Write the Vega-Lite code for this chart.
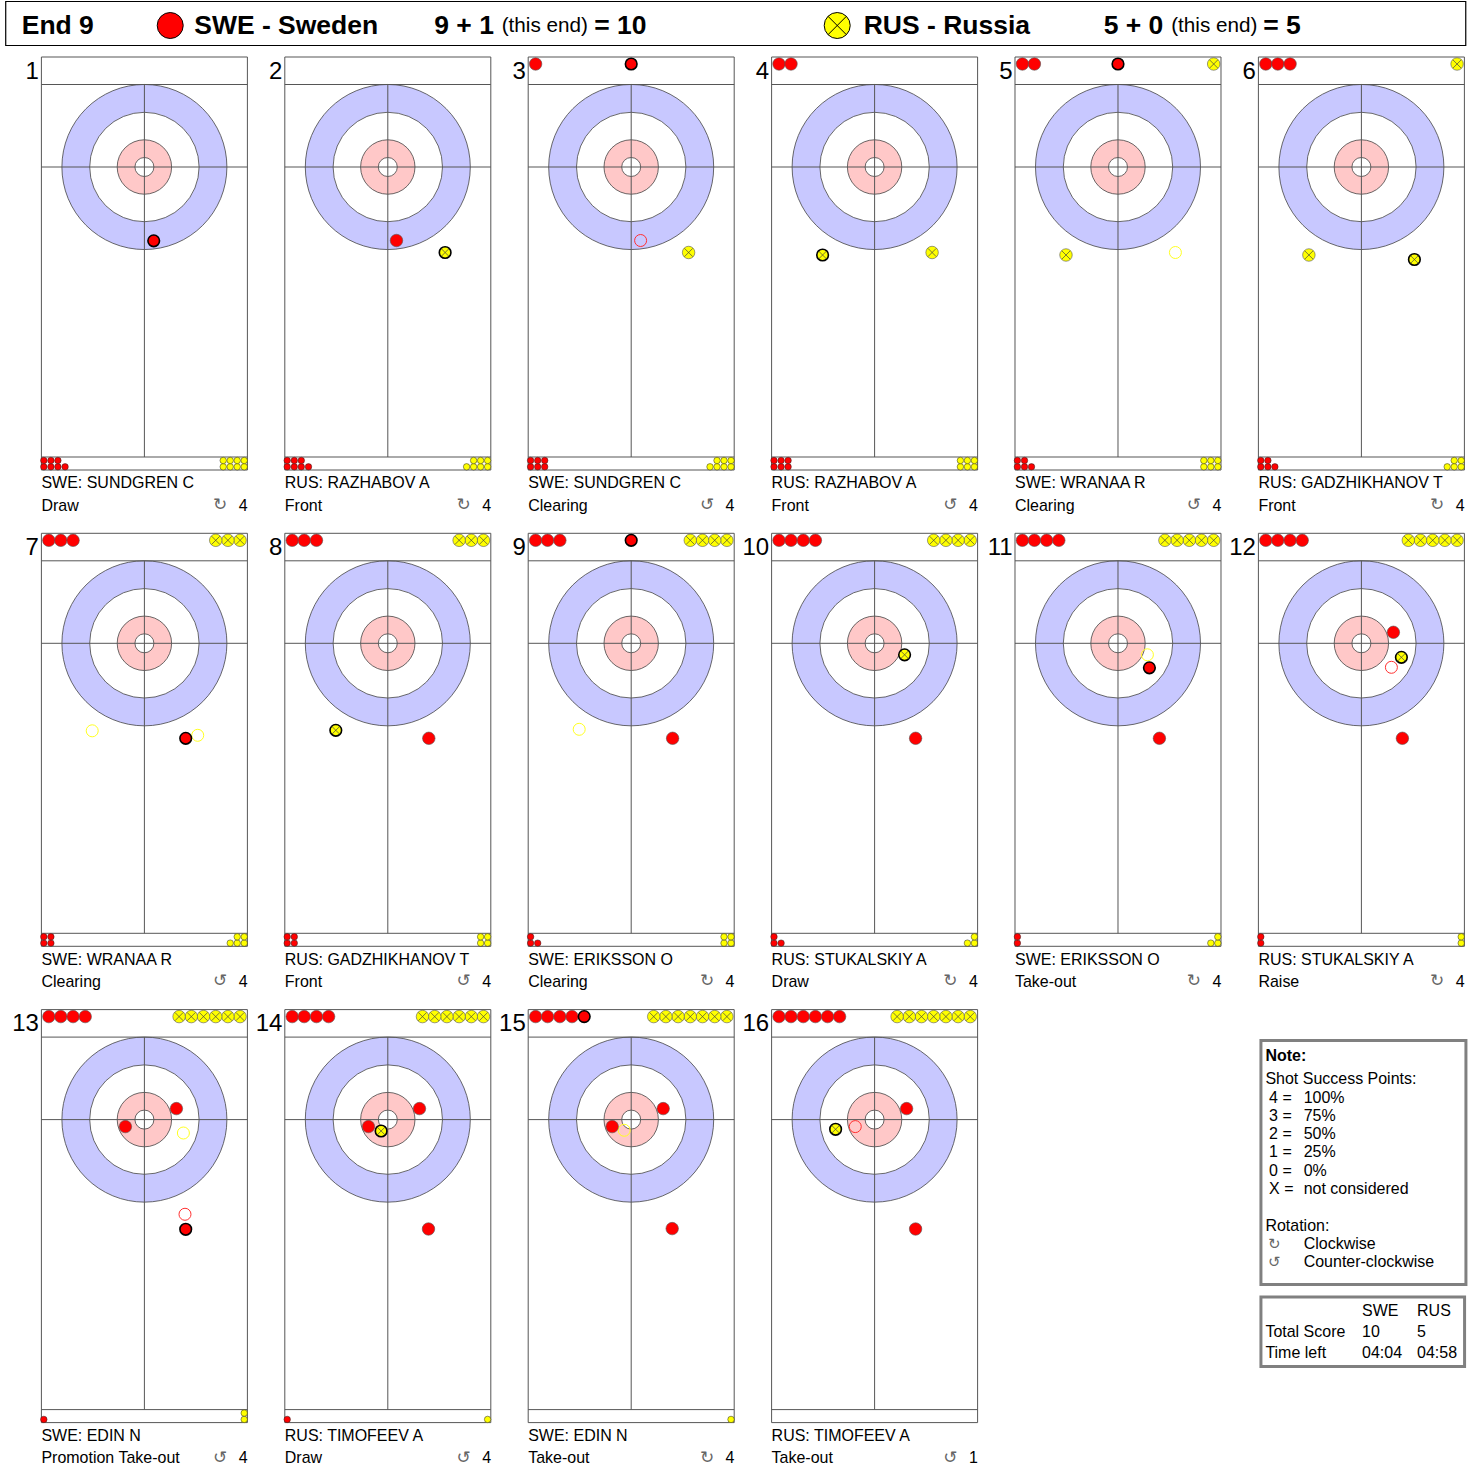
{"$schema":"https://vega.github.io/schema/vega-lite/v6.json","background":"white","padding":{"left":4.4,"top":-1,"right":0,"bottom":0},"autosize":{"type":"pad"},"config":{"font":"Liberation Sans","view":{"stroke":null}},
"columns":6,"spacing":{"row":63.3,"column":37.4},"bounds":"flush",
"facet":{"field":"panel","type":"ordinal","header":{"title":null,"labelExpr":"''","labelPadding":0,"labelFontSize":1,"labelColor":"transparent"}},
"data":{"values":[
{"panel":1,"kind":"label","x":0,"y":0,"player":"SWE: SUNDGREN C","shot":"Draw","rot":"↻","score":"4"},
{"panel":2,"kind":"label","x":0,"y":0,"player":"RUS: RAZHABOV A","shot":"Front","rot":"↻","score":"4"},
{"panel":3,"kind":"label","x":0,"y":0,"player":"SWE: SUNDGREN C","shot":"Clearing","rot":"↺","score":"4"},
{"panel":4,"kind":"label","x":0,"y":0,"player":"RUS: RAZHABOV A","shot":"Front","rot":"↺","score":"4"},
{"panel":5,"kind":"label","x":0,"y":0,"player":"SWE: WRANAA R","shot":"Clearing","rot":"↺","score":"4"},
{"panel":6,"kind":"label","x":0,"y":0,"player":"RUS: GADZHIKHANOV T","shot":"Front","rot":"↻","score":"4"},
{"panel":7,"kind":"label","x":0,"y":0,"player":"SWE: WRANAA R","shot":"Clearing","rot":"↺","score":"4"},
{"panel":8,"kind":"label","x":0,"y":0,"player":"RUS: GADZHIKHANOV T","shot":"Front","rot":"↺","score":"4"},
{"panel":9,"kind":"label","x":0,"y":0,"player":"SWE: ERIKSSON O","shot":"Clearing","rot":"↻","score":"4"},
{"panel":10,"kind":"label","x":0,"y":0,"player":"RUS: STUKALSKIY A","shot":"Draw","rot":"↻","score":"4"},
{"panel":11,"kind":"label","x":0,"y":0,"player":"SWE: ERIKSSON O","shot":"Take-out","rot":"↻","score":"4"},
{"panel":12,"kind":"label","x":0,"y":0,"player":"RUS: STUKALSKIY A","shot":"Raise","rot":"↻","score":"4"},
{"panel":13,"kind":"label","x":0,"y":0,"player":"SWE: EDIN N","shot":"Promotion Take-out","rot":"↺","score":"4"},
{"panel":14,"kind":"label","x":0,"y":0,"player":"RUS: TIMOFEEV A","shot":"Draw","rot":"↺","score":"4"},
{"panel":15,"kind":"label","x":0,"y":0,"player":"SWE: EDIN N","shot":"Take-out","rot":"↻","score":"4"},
{"panel":16,"kind":"label","x":0,"y":0,"player":"RUS: TIMOFEEV A","shot":"Take-out","rot":"↺","score":"1"},
{"panel":17,"kind":"blank","x":0,"y":0},
{"panel":1,"kind":"headbox","x":-305.1,"x2":2907,"y":-364.1,"y2":-267.3},
{"panel":1,"kind":"headStone","team":"SWE","x":56.8,"y":-311.3},
{"panel":1,"kind":"headStone","team":"RUS","x":1524.2,"y":-311.3},
{"panel":1,"kind":"headBold","x":-269.9,"y":-311.3,"label":"End 9"},
{"panel":1,"kind":"headBold","x":109.6,"y":-311.3,"label":"SWE - Sweden"},
{"panel":1,"kind":"headBold","x":637.6,"y":-311.3,"label":"9 + 1"},
{"panel":1,"kind":"headThin","x":786,"y":-311.3,"label":"(this end)"},
{"panel":1,"kind":"headBold","x":989.6,"y":-311.3,"label":"= 10"},
{"panel":1,"kind":"headBold","x":1582.5,"y":-311.3,"label":"RUS - Russia"},
{"panel":1,"kind":"headBold","x":2110.5,"y":-311.3,"label":"5 + 0"},
{"panel":1,"kind":"headThin","x":2259,"y":-311.3,"label":"(this end)"},
{"panel":1,"kind":"headBold","x":2461.4,"y":-311.3,"label":"= 5"},
{"panel":18,"kind":"box","x":-221,"x2":230,"y":-173.8,"y2":363},
{"panel":18,"kind":"box","x":-221,"x2":227,"y":390.5,"y2":543.4},
{"panel":18,"kind":"noteBold","x":-211.2,"y":-140,"label":"Note:"},
{"panel":18,"kind":"note","x":-211.2,"y":-89,"label":"Shot Success Points:"},
{"panel":18,"kind":"note","x":-203,"y":-48,"label":"4 ="},
{"panel":18,"kind":"note","x":-127,"y":-48,"label":"100%"},
{"panel":18,"kind":"note","x":-203,"y":-7.7,"label":"3 ="},
{"panel":18,"kind":"note","x":-127,"y":-7.7,"label":"75%"},
{"panel":18,"kind":"note","x":-203,"y":31.9,"label":"2 ="},
{"panel":18,"kind":"note","x":-127,"y":31.9,"label":"50%"},
{"panel":18,"kind":"note","x":-203,"y":72.2,"label":"1 ="},
{"panel":18,"kind":"note","x":-127,"y":72.2,"label":"25%"},
{"panel":18,"kind":"note","x":-203,"y":112.6,"label":"0 ="},
{"panel":18,"kind":"note","x":-127,"y":112.6,"label":"0%"},
{"panel":18,"kind":"note","x":-203,"y":152.9,"label":"X ="},
{"panel":18,"kind":"note","x":-127,"y":152.9,"label":"not considered"},
{"panel":18,"kind":"note","x":-211.2,"y":234.3,"label":"Rotation:"},
{"panel":18,"kind":"noteGlyph","x":-191.4,"y":273.9,"label":"↻"},
{"panel":18,"kind":"note","x":-127,"y":273.9,"label":"Clockwise"},
{"panel":18,"kind":"noteGlyph","x":-191.4,"y":314.2,"label":"↺"},
{"panel":18,"kind":"note","x":-127,"y":314.2,"label":"Counter-clockwise"},
{"panel":18,"kind":"note","x":1.5,"y":421.3,"label":"SWE"},
{"panel":18,"kind":"note","x":122.5,"y":421.3,"label":"RUS"},
{"panel":18,"kind":"note","x":-211.2,"y":466.8,"label":"Total Score"},
{"panel":18,"kind":"note","x":1.5,"y":466.8,"label":"10"},
{"panel":18,"kind":"note","x":122.5,"y":466.8,"label":"5"},
{"panel":18,"kind":"note","x":-211.2,"y":513,"label":"Time left"},
{"panel":18,"kind":"note","x":1.5,"y":513,"label":"04:04"},
{"panel":18,"kind":"note","x":122.5,"y":513,"label":"04:58"},
{"panel":1,"team":"SWE","state":"thrown","x":20.5,"y":162.4},
{"panel":2,"team":"SWE","state":"rest","x":19.1,"y":161.7},
{"panel":2,"team":"RUS","state":"thrown","x":126.1,"y":188.1},
{"panel":3,"team":"SWE","state":"removed","x":20.7,"y":161.7},
{"panel":3,"team":"RUS","state":"rest","x":126.3,"y":188.1},
{"panel":3,"team":"SWE","state":"thrown","x":0,"y":-226.6},
{"panel":4,"team":"RUS","state":"thrown","x":-114.4,"y":193.6},
{"panel":4,"team":"RUS","state":"rest","x":126.5,"y":188.1},
{"panel":5,"team":"RUS","state":"rest","x":-114.4,"y":193.6},
{"panel":5,"team":"RUS","state":"removed","x":126.3,"y":188.1},
{"panel":5,"team":"SWE","state":"thrown","x":0,"y":-226.6},
{"panel":6,"team":"RUS","state":"rest","x":-115.5,"y":193.6},
{"panel":6,"team":"RUS","state":"thrown","x":116.6,"y":203.5},
{"panel":7,"team":"RUS","state":"removed","x":-114.8,"y":192.5},
{"panel":7,"team":"RUS","state":"removed","x":117.3,"y":202.4},
{"panel":7,"team":"SWE","state":"thrown","x":90.9,"y":209},
{"panel":8,"team":"RUS","state":"thrown","x":-114.4,"y":191.4},
{"panel":8,"team":"SWE","state":"rest","x":90.2,"y":209},
{"panel":9,"team":"RUS","state":"removed","x":-114.4,"y":189.2},
{"panel":9,"team":"SWE","state":"rest","x":91.1,"y":209},
{"panel":9,"team":"SWE","state":"thrown","x":0,"y":-226.6},
{"panel":10,"team":"RUS","state":"thrown","x":66,"y":25.3},
{"panel":10,"team":"SWE","state":"rest","x":90.2,"y":209},
{"panel":11,"team":"RUS","state":"removed","x":64.7,"y":25.3},
{"panel":11,"team":"SWE","state":"thrown","x":69.1,"y":53.9},
{"panel":11,"team":"SWE","state":"rest","x":91.1,"y":209},
{"panel":12,"team":"SWE","state":"rest","x":70.4,"y":-24.2},
{"panel":12,"team":"RUS","state":"thrown","x":88,"y":30.8},
{"panel":12,"team":"SWE","state":"removed","x":66,"y":52.8},
{"panel":12,"team":"SWE","state":"rest","x":90.2,"y":209},
{"panel":13,"team":"SWE","state":"rest","x":70.4,"y":-24.2},
{"panel":13,"team":"SWE","state":"rest","x":-41.8,"y":15.4},
{"panel":13,"team":"RUS","state":"removed","x":85.8,"y":29.5},
{"panel":13,"team":"SWE","state":"removed","x":89.3,"y":208.3},
{"panel":13,"team":"SWE","state":"thrown","x":90.9,"y":241.3},
{"panel":14,"team":"SWE","state":"rest","x":69.7,"y":-24.2},
{"panel":14,"team":"SWE","state":"rest","x":-42.5,"y":15.4},
{"panel":14,"team":"RUS","state":"thrown","x":-14.7,"y":25.1},
{"panel":14,"team":"SWE","state":"rest","x":89.5,"y":240.7},
{"panel":15,"team":"SWE","state":"rest","x":70.4,"y":-24.2},
{"panel":15,"team":"SWE","state":"rest","x":-41.8,"y":15.4},
{"panel":15,"team":"RUS","state":"removed","x":-15.4,"y":23.5},
{"panel":15,"team":"SWE","state":"rest","x":90.2,"y":239.8},
{"panel":15,"team":"SWE","state":"thrown","x":-103.4,"y":-226.6},
{"panel":16,"team":"RUS","state":"thrown","x":-85.8,"y":21.3},
{"panel":16,"team":"SWE","state":"removed","x":-42.5,"y":15.4},
{"panel":16,"team":"SWE","state":"rest","x":70.4,"y":-24.2},
{"panel":16,"team":"SWE","state":"rest","x":90.2,"y":240.7},
{"panel":3,"team":"SWE","state":"rest","x":-210.3,"y":-226.6},
{"panel":4,"team":"SWE","state":"rest","x":-210.3,"y":-226.6},{"panel":4,"team":"SWE","state":"rest","x":-183.9,"y":-226.6},
{"panel":5,"team":"SWE","state":"rest","x":-210.3,"y":-226.6},{"panel":5,"team":"SWE","state":"rest","x":-183.9,"y":-226.6},{"panel":5,"team":"RUS","state":"rest","x":210.5,"y":-226.6},
{"panel":6,"team":"SWE","state":"rest","x":-210.3,"y":-226.6},{"panel":6,"team":"SWE","state":"rest","x":-183.9,"y":-226.6},{"panel":6,"team":"SWE","state":"rest","x":-156.9,"y":-226.6},{"panel":6,"team":"RUS","state":"rest","x":210.5,"y":-226.6},
{"panel":7,"team":"SWE","state":"rest","x":-210.3,"y":-226.6},{"panel":7,"team":"SWE","state":"rest","x":-183.9,"y":-226.6},{"panel":7,"team":"SWE","state":"rest","x":-156.9,"y":-226.6},{"panel":7,"team":"RUS","state":"rest","x":210.5,"y":-226.6},{"panel":7,"team":"RUS","state":"rest","x":183.7,"y":-226.6},{"panel":7,"team":"RUS","state":"rest","x":156.9,"y":-226.6},
{"panel":8,"team":"SWE","state":"rest","x":-210.3,"y":-226.6},{"panel":8,"team":"SWE","state":"rest","x":-183.9,"y":-226.6},{"panel":8,"team":"SWE","state":"rest","x":-156.9,"y":-226.6},{"panel":8,"team":"RUS","state":"rest","x":210.5,"y":-226.6},{"panel":8,"team":"RUS","state":"rest","x":183.7,"y":-226.6},{"panel":8,"team":"RUS","state":"rest","x":156.9,"y":-226.6},
{"panel":9,"team":"SWE","state":"rest","x":-210.3,"y":-226.6},{"panel":9,"team":"SWE","state":"rest","x":-183.9,"y":-226.6},{"panel":9,"team":"SWE","state":"rest","x":-156.9,"y":-226.6},{"panel":9,"team":"RUS","state":"rest","x":210.5,"y":-226.6},{"panel":9,"team":"RUS","state":"rest","x":183.7,"y":-226.6},{"panel":9,"team":"RUS","state":"rest","x":156.9,"y":-226.6},{"panel":9,"team":"RUS","state":"rest","x":130,"y":-226.6},
{"panel":10,"team":"SWE","state":"rest","x":-210.3,"y":-226.6},{"panel":10,"team":"SWE","state":"rest","x":-183.9,"y":-226.6},{"panel":10,"team":"SWE","state":"rest","x":-156.9,"y":-226.6},{"panel":10,"team":"SWE","state":"rest","x":-130.2,"y":-226.6},{"panel":10,"team":"RUS","state":"rest","x":210.5,"y":-226.6},{"panel":10,"team":"RUS","state":"rest","x":183.7,"y":-226.6},{"panel":10,"team":"RUS","state":"rest","x":156.9,"y":-226.6},{"panel":10,"team":"RUS","state":"rest","x":130,"y":-226.6},
{"panel":11,"team":"SWE","state":"rest","x":-210.3,"y":-226.6},{"panel":11,"team":"SWE","state":"rest","x":-183.9,"y":-226.6},{"panel":11,"team":"SWE","state":"rest","x":-156.9,"y":-226.6},{"panel":11,"team":"SWE","state":"rest","x":-130.2,"y":-226.6},{"panel":11,"team":"RUS","state":"rest","x":210.5,"y":-226.6},{"panel":11,"team":"RUS","state":"rest","x":183.7,"y":-226.6},{"panel":11,"team":"RUS","state":"rest","x":156.9,"y":-226.6},{"panel":11,"team":"RUS","state":"rest","x":130,"y":-226.6},{"panel":11,"team":"RUS","state":"rest","x":103.2,"y":-226.6},
{"panel":12,"team":"SWE","state":"rest","x":-210.3,"y":-226.6},{"panel":12,"team":"SWE","state":"rest","x":-183.9,"y":-226.6},{"panel":12,"team":"SWE","state":"rest","x":-156.9,"y":-226.6},{"panel":12,"team":"SWE","state":"rest","x":-130.2,"y":-226.6},{"panel":12,"team":"RUS","state":"rest","x":210.5,"y":-226.6},{"panel":12,"team":"RUS","state":"rest","x":183.7,"y":-226.6},{"panel":12,"team":"RUS","state":"rest","x":156.9,"y":-226.6},{"panel":12,"team":"RUS","state":"rest","x":130,"y":-226.6},{"panel":12,"team":"RUS","state":"rest","x":103.2,"y":-226.6},
{"panel":13,"team":"SWE","state":"rest","x":-210.3,"y":-226.6},{"panel":13,"team":"SWE","state":"rest","x":-183.9,"y":-226.6},{"panel":13,"team":"SWE","state":"rest","x":-156.9,"y":-226.6},{"panel":13,"team":"SWE","state":"rest","x":-130.2,"y":-226.6},{"panel":13,"team":"RUS","state":"rest","x":210.5,"y":-226.6},{"panel":13,"team":"RUS","state":"rest","x":183.7,"y":-226.6},{"panel":13,"team":"RUS","state":"rest","x":156.9,"y":-226.6},{"panel":13,"team":"RUS","state":"rest","x":130,"y":-226.6},{"panel":13,"team":"RUS","state":"rest","x":103.2,"y":-226.6},{"panel":13,"team":"RUS","state":"rest","x":76.3,"y":-226.6},
{"panel":14,"team":"SWE","state":"rest","x":-210.3,"y":-226.6},{"panel":14,"team":"SWE","state":"rest","x":-183.9,"y":-226.6},{"panel":14,"team":"SWE","state":"rest","x":-156.9,"y":-226.6},{"panel":14,"team":"SWE","state":"rest","x":-130.2,"y":-226.6},{"panel":14,"team":"RUS","state":"rest","x":210.5,"y":-226.6},{"panel":14,"team":"RUS","state":"rest","x":183.7,"y":-226.6},{"panel":14,"team":"RUS","state":"rest","x":156.9,"y":-226.6},{"panel":14,"team":"RUS","state":"rest","x":130,"y":-226.6},{"panel":14,"team":"RUS","state":"rest","x":103.2,"y":-226.6},{"panel":14,"team":"RUS","state":"rest","x":76.3,"y":-226.6},
{"panel":15,"team":"SWE","state":"rest","x":-210.3,"y":-226.6},{"panel":15,"team":"SWE","state":"rest","x":-183.9,"y":-226.6},{"panel":15,"team":"SWE","state":"rest","x":-156.9,"y":-226.6},{"panel":15,"team":"SWE","state":"rest","x":-130.2,"y":-226.6},{"panel":15,"team":"RUS","state":"rest","x":210.5,"y":-226.6},{"panel":15,"team":"RUS","state":"rest","x":183.7,"y":-226.6},{"panel":15,"team":"RUS","state":"rest","x":156.9,"y":-226.6},{"panel":15,"team":"RUS","state":"rest","x":130,"y":-226.6},{"panel":15,"team":"RUS","state":"rest","x":103.2,"y":-226.6},{"panel":15,"team":"RUS","state":"rest","x":76.3,"y":-226.6},{"panel":15,"team":"RUS","state":"rest","x":49.5,"y":-226.6},
{"panel":16,"team":"SWE","state":"rest","x":-210.3,"y":-226.6},{"panel":16,"team":"SWE","state":"rest","x":-183.9,"y":-226.6},{"panel":16,"team":"SWE","state":"rest","x":-156.9,"y":-226.6},{"panel":16,"team":"SWE","state":"rest","x":-130.2,"y":-226.6},{"panel":16,"team":"SWE","state":"rest","x":-103.4,"y":-226.6},{"panel":16,"team":"SWE","state":"rest","x":-77,"y":-226.6},{"panel":16,"team":"RUS","state":"rest","x":210.5,"y":-226.6},{"panel":16,"team":"RUS","state":"rest","x":183.7,"y":-226.6},{"panel":16,"team":"RUS","state":"rest","x":156.9,"y":-226.6},{"panel":16,"team":"RUS","state":"rest","x":130,"y":-226.6},{"panel":16,"team":"RUS","state":"rest","x":103.2,"y":-226.6},{"panel":16,"team":"RUS","state":"rest","x":76.3,"y":-226.6},{"panel":16,"team":"RUS","state":"rest","x":49.5,"y":-226.6},
{"panel":1,"team":"SWE","state":"tray","x":-221.3,"y":659.6},{"panel":1,"team":"SWE","state":"tray","x":-205.7,"y":659.6},{"panel":1,"team":"SWE","state":"tray","x":-190.3,"y":659.6},{"panel":1,"team":"SWE","state":"tray","x":-174.5,"y":659.6},{"panel":1,"team":"SWE","state":"tray","x":-221.3,"y":645.7},{"panel":1,"team":"SWE","state":"tray","x":-205.7,"y":645.7},{"panel":1,"team":"SWE","state":"tray","x":-190.3,"y":645.7},
{"panel":2,"team":"SWE","state":"tray","x":-221.3,"y":659.6},{"panel":2,"team":"SWE","state":"tray","x":-205.7,"y":659.6},{"panel":2,"team":"SWE","state":"tray","x":-190.3,"y":659.6},{"panel":2,"team":"SWE","state":"tray","x":-174.5,"y":659.6},{"panel":2,"team":"SWE","state":"tray","x":-221.3,"y":645.7},{"panel":2,"team":"SWE","state":"tray","x":-205.7,"y":645.7},{"panel":2,"team":"SWE","state":"tray","x":-190.3,"y":645.7},
{"panel":3,"team":"SWE","state":"tray","x":-221.3,"y":659.6},{"panel":3,"team":"SWE","state":"tray","x":-205.7,"y":659.6},{"panel":3,"team":"SWE","state":"tray","x":-190.3,"y":659.6},{"panel":3,"team":"SWE","state":"tray","x":-221.3,"y":645.7},{"panel":3,"team":"SWE","state":"tray","x":-205.7,"y":645.7},{"panel":3,"team":"SWE","state":"tray","x":-190.3,"y":645.7},
{"panel":4,"team":"SWE","state":"tray","x":-221.3,"y":659.6},{"panel":4,"team":"SWE","state":"tray","x":-205.7,"y":659.6},{"panel":4,"team":"SWE","state":"tray","x":-190.3,"y":659.6},{"panel":4,"team":"SWE","state":"tray","x":-221.3,"y":645.7},{"panel":4,"team":"SWE","state":"tray","x":-205.7,"y":645.7},{"panel":4,"team":"SWE","state":"tray","x":-190.3,"y":645.7},
{"panel":5,"team":"SWE","state":"tray","x":-221.3,"y":659.6},{"panel":5,"team":"SWE","state":"tray","x":-205.7,"y":659.6},{"panel":5,"team":"SWE","state":"tray","x":-190.3,"y":659.6},{"panel":5,"team":"SWE","state":"tray","x":-221.3,"y":645.7},{"panel":5,"team":"SWE","state":"tray","x":-205.7,"y":645.7},
{"panel":6,"team":"SWE","state":"tray","x":-221.3,"y":659.6},{"panel":6,"team":"SWE","state":"tray","x":-205.7,"y":659.6},{"panel":6,"team":"SWE","state":"tray","x":-190.3,"y":659.6},{"panel":6,"team":"SWE","state":"tray","x":-221.3,"y":645.7},{"panel":6,"team":"SWE","state":"tray","x":-205.7,"y":645.7},
{"panel":7,"team":"SWE","state":"tray","x":-221.3,"y":659.6},{"panel":7,"team":"SWE","state":"tray","x":-205.7,"y":659.6},{"panel":7,"team":"SWE","state":"tray","x":-221.3,"y":645.7},{"panel":7,"team":"SWE","state":"tray","x":-205.7,"y":645.7},
{"panel":8,"team":"SWE","state":"tray","x":-221.3,"y":659.6},{"panel":8,"team":"SWE","state":"tray","x":-205.7,"y":659.6},{"panel":8,"team":"SWE","state":"tray","x":-221.3,"y":645.7},{"panel":8,"team":"SWE","state":"tray","x":-205.7,"y":645.7},
{"panel":9,"team":"SWE","state":"tray","x":-221.3,"y":659.6},{"panel":9,"team":"SWE","state":"tray","x":-205.7,"y":659.6},{"panel":9,"team":"SWE","state":"tray","x":-221.3,"y":645.7},
{"panel":10,"team":"SWE","state":"tray","x":-221.3,"y":659.6},{"panel":10,"team":"SWE","state":"tray","x":-205.7,"y":659.6},{"panel":10,"team":"SWE","state":"tray","x":-221.3,"y":645.7},
{"panel":11,"team":"SWE","state":"tray","x":-221.3,"y":659.6},{"panel":11,"team":"SWE","state":"tray","x":-221.3,"y":645.7},
{"panel":12,"team":"SWE","state":"tray","x":-221.3,"y":659.6},{"panel":12,"team":"SWE","state":"tray","x":-221.3,"y":645.7},
{"panel":13,"team":"SWE","state":"tray","x":-221.3,"y":659.6},
{"panel":14,"team":"SWE","state":"tray","x":-221.3,"y":659.6},
{"panel":1,"team":"RUS","state":"tray","x":219.6,"y":659.6},{"panel":1,"team":"RUS","state":"tray","x":204.2,"y":659.6},{"panel":1,"team":"RUS","state":"tray","x":188.8,"y":659.6},{"panel":1,"team":"RUS","state":"tray","x":173.4,"y":659.6},{"panel":1,"team":"RUS","state":"tray","x":219.6,"y":645.7},{"panel":1,"team":"RUS","state":"tray","x":204.2,"y":645.7},{"panel":1,"team":"RUS","state":"tray","x":188.8,"y":645.7},{"panel":1,"team":"RUS","state":"tray","x":173.4,"y":645.7},
{"panel":2,"team":"RUS","state":"tray","x":219.6,"y":659.6},{"panel":2,"team":"RUS","state":"tray","x":204.2,"y":659.6},{"panel":2,"team":"RUS","state":"tray","x":188.8,"y":659.6},{"panel":2,"team":"RUS","state":"tray","x":173.4,"y":659.6},{"panel":2,"team":"RUS","state":"tray","x":219.6,"y":645.7},{"panel":2,"team":"RUS","state":"tray","x":204.2,"y":645.7},{"panel":2,"team":"RUS","state":"tray","x":188.8,"y":645.7},
{"panel":3,"team":"RUS","state":"tray","x":219.6,"y":659.6},{"panel":3,"team":"RUS","state":"tray","x":204.2,"y":659.6},{"panel":3,"team":"RUS","state":"tray","x":188.8,"y":659.6},{"panel":3,"team":"RUS","state":"tray","x":173.4,"y":659.6},{"panel":3,"team":"RUS","state":"tray","x":219.6,"y":645.7},{"panel":3,"team":"RUS","state":"tray","x":204.2,"y":645.7},{"panel":3,"team":"RUS","state":"tray","x":188.8,"y":645.7},
{"panel":4,"team":"RUS","state":"tray","x":219.6,"y":659.6},{"panel":4,"team":"RUS","state":"tray","x":204.2,"y":659.6},{"panel":4,"team":"RUS","state":"tray","x":188.8,"y":659.6},{"panel":4,"team":"RUS","state":"tray","x":219.6,"y":645.7},{"panel":4,"team":"RUS","state":"tray","x":204.2,"y":645.7},{"panel":4,"team":"RUS","state":"tray","x":188.8,"y":645.7},
{"panel":5,"team":"RUS","state":"tray","x":219.6,"y":659.6},{"panel":5,"team":"RUS","state":"tray","x":204.2,"y":659.6},{"panel":5,"team":"RUS","state":"tray","x":188.8,"y":659.6},{"panel":5,"team":"RUS","state":"tray","x":219.6,"y":645.7},{"panel":5,"team":"RUS","state":"tray","x":204.2,"y":645.7},{"panel":5,"team":"RUS","state":"tray","x":188.8,"y":645.7},
{"panel":6,"team":"RUS","state":"tray","x":219.6,"y":659.6},{"panel":6,"team":"RUS","state":"tray","x":204.2,"y":659.6},{"panel":6,"team":"RUS","state":"tray","x":188.8,"y":659.6},{"panel":6,"team":"RUS","state":"tray","x":219.6,"y":645.7},{"panel":6,"team":"RUS","state":"tray","x":204.2,"y":645.7},
{"panel":7,"team":"RUS","state":"tray","x":219.6,"y":659.6},{"panel":7,"team":"RUS","state":"tray","x":204.2,"y":659.6},{"panel":7,"team":"RUS","state":"tray","x":188.8,"y":659.6},{"panel":7,"team":"RUS","state":"tray","x":219.6,"y":645.7},{"panel":7,"team":"RUS","state":"tray","x":204.2,"y":645.7},
{"panel":8,"team":"RUS","state":"tray","x":219.6,"y":659.6},{"panel":8,"team":"RUS","state":"tray","x":204.2,"y":659.6},{"panel":8,"team":"RUS","state":"tray","x":219.6,"y":645.7},{"panel":8,"team":"RUS","state":"tray","x":204.2,"y":645.7},
{"panel":9,"team":"RUS","state":"tray","x":219.6,"y":659.6},{"panel":9,"team":"RUS","state":"tray","x":204.2,"y":659.6},{"panel":9,"team":"RUS","state":"tray","x":219.6,"y":645.7},{"panel":9,"team":"RUS","state":"tray","x":204.2,"y":645.7},
{"panel":10,"team":"RUS","state":"tray","x":219.6,"y":659.6},{"panel":10,"team":"RUS","state":"tray","x":204.2,"y":659.6},{"panel":10,"team":"RUS","state":"tray","x":219.6,"y":645.7},
{"panel":11,"team":"RUS","state":"tray","x":219.6,"y":659.6},{"panel":11,"team":"RUS","state":"tray","x":204.2,"y":659.6},{"panel":11,"team":"RUS","state":"tray","x":219.6,"y":645.7},
{"panel":12,"team":"RUS","state":"tray","x":219.6,"y":659.6},{"panel":12,"team":"RUS","state":"tray","x":219.6,"y":645.7},
{"panel":13,"team":"RUS","state":"tray","x":219.6,"y":659.6},{"panel":13,"team":"RUS","state":"tray","x":219.6,"y":645.7},
{"panel":14,"team":"RUS","state":"tray","x":219.6,"y":659.6},
{"panel":15,"team":"RUS","state":"tray","x":219.6,"y":659.6}
]},
"spec":{"width":206,"height":413,
"encoding":{"x":{"field":"x","type":"quantitative","axis":null,"scale":{"domain":[-226.6,226.6],"nice":false,"zero":false}},"y":{"field":"y","type":"quantitative","axis":null,"scale":{"domain":[-242,666.6],"reverse":true,"nice":false,"zero":false}}},
"layer":[
{"transform":[{"filter":"datum.kind==='label'"}],"mark":{"type":"point","shape":"circle","filled":true,"fill":"#c8c8ff","stroke":"#444444","strokeWidth":0.8,"opacity":1,"size":27225},"encoding":{}},
{"transform":[{"filter":"datum.kind==='label'"}],"mark":{"type":"point","shape":"circle","filled":true,"fill":"#ffffff","stroke":"#444444","strokeWidth":0.8,"opacity":1,"size":11968},"encoding":{}},
{"transform":[{"filter":"datum.kind==='label'"}],"mark":{"type":"point","shape":"circle","filled":true,"fill":"#ffc8c8","stroke":"#444444","strokeWidth":0.8,"opacity":1,"size":2959},"encoding":{}},
{"transform":[{"filter":"datum.kind==='label'"}],"mark":{"type":"point","shape":"circle","filled":true,"fill":"#ffffff","stroke":"#444444","strokeWidth":0.8,"opacity":1,"size":361},"encoding":{}},
{"transform":[{"filter":"datum.kind==='label'"}],"mark":{"type":"rule","stroke":"#555555","strokeWidth":1},"encoding":{"x":{"datum":0},"y":{"datum":-181.5},"y2":{"datum":638}}},
{"transform":[{"filter":"datum.kind==='label'"}],"mark":{"type":"rule","stroke":"#555555","strokeWidth":1},"encoding":{"x":{"datum":-226.6},"x2":{"datum":226.6},"y":{"datum":0}}},
{"transform":[{"filter":"datum.kind==='label'"}],"mark":{"type":"rule","stroke":"#555555","strokeWidth":1},"encoding":{"x":{"datum":-226.6},"x2":{"datum":226.6},"y":{"datum":-181.5}}},
{"transform":[{"filter":"datum.kind==='label'"}],"mark":{"type":"rule","stroke":"#555555","strokeWidth":1},"encoding":{"x":{"datum":-226.6},"x2":{"datum":226.6},"y":{"datum":638}}},
{"transform":[{"filter":"datum.kind==='label'"}],"mark":{"type":"rect","fillOpacity":0,"stroke":"#555555","strokeWidth":1},"encoding":{"x":{"datum":-226.6},"x2":{"datum":226.6},"y":{"datum":-242},"y2":{"datum":666.6}}},
{"transform":[{"filter":"datum.state==='removed'"}],"mark":{"type":"point","shape":"circle","filled":false,"strokeWidth":1,"opacity":1,"size":144},"encoding":{"color":{"field":"team","type":"nominal","legend":null,"scale":{"domain":["SWE","RUS"],"range":["#ff3030","#ffff20"]}}}},
{"transform":[{"filter":"datum.state==='rest'"}],"mark":{"type":"point","shape":"circle","filled":true,"stroke":"#555555","strokeWidth":0.6,"opacity":1,"size":156},"encoding":{"fill":{"field":"team","type":"nominal","legend":null,"scale":{"domain":["SWE","RUS"],"range":["#ff0000","#ffff00"]}}}},
{"transform":[{"filter":"datum.state==='thrown'"}],"mark":{"type":"point","shape":"circle","filled":true,"stroke":"#000000","strokeWidth":1.6,"opacity":1,"size":135},"encoding":{"fill":{"field":"team","type":"nominal","legend":null,"scale":{"domain":["SWE","RUS"],"range":["#ff0000","#ffff00"]}}}},
{"transform":[{"filter":"datum.team==='RUS'&&(datum.state==='rest'||datum.state==='thrown')"}],"mark":{"type":"point","shape":"M-1,-1L1,1M-1,1L1,-1","filled":false,"stroke":"#444444","strokeWidth":0.7,"opacity":1,"size":68},"encoding":{}},
{"transform":[{"filter":"datum.state==='tray'"}],"mark":{"type":"point","shape":"circle","filled":true,"stroke":"#222222","strokeWidth":0.5,"opacity":1,"size":42},"encoding":{"fill":{"field":"team","type":"nominal","legend":null,"scale":{"domain":["SWE","RUS"],"range":["#ff0000","#ffff00"]}}}},
{"transform":[{"filter":"datum.kind==='label'"}],"mark":{"type":"text","align":"right","baseline":"middle","fontSize":24,"color":"#000000"},"encoding":{"x":{"datum":-232},"y":{"datum":-210},"text":{"field":"panel","type":"nominal"}}},
{"transform":[{"filter":"datum.kind==='label'"}],"mark":{"type":"text","align":"left","baseline":"middle","fontSize":16,"color":"#000000"},"encoding":{"x":{"datum":-226.6},"y":{"datum":696},"text":{"field":"player","type":"nominal"}}},
{"transform":[{"filter":"datum.kind==='label'"}],"mark":{"type":"text","align":"left","baseline":"middle","fontSize":16,"color":"#000000"},"encoding":{"x":{"datum":-226.6},"y":{"datum":744.7},"text":{"field":"shot","type":"nominal"}}},
{"transform":[{"filter":"datum.kind==='label'"}],"mark":{"type":"text","align":"center","baseline":"middle","fontSize":17,"font":"DejaVu Sans","color":"#666666"},"encoding":{"x":{"datum":166.8},"y":{"datum":744},"text":{"field":"rot","type":"nominal"}}},
{"transform":[{"filter":"datum.kind==='label'"}],"mark":{"type":"text","align":"right","baseline":"middle","fontSize":16,"color":"#000000"},"encoding":{"x":{"datum":227.3},"y":{"datum":744.7},"text":{"field":"score","type":"nominal"}}},
{"transform":[{"filter":"datum.kind==='headbox'"}],"mark":{"type":"rect","fillOpacity":0,"stroke":"#000000","strokeWidth":1.2},"encoding":{"x2":{"field":"x2"},"y2":{"field":"y2"}}},
{"transform":[{"filter":"datum.kind==='box'"}],"mark":{"type":"rect","fillOpacity":0,"stroke":"#808080","strokeWidth":3},"encoding":{"x2":{"field":"x2"},"y2":{"field":"y2"}}},
{"transform":[{"filter":"datum.kind==='headStone'"}],"mark":{"type":"point","shape":"circle","filled":true,"stroke":"#000000","strokeWidth":1,"opacity":1,"size":676},"encoding":{"fill":{"field":"team","type":"nominal","legend":null,"scale":{"domain":["SWE","RUS"],"range":["#ff0000","#ffff00"]}}}},
{"transform":[{"filter":"datum.kind==='headStone'&&datum.team==='RUS'"}],"mark":{"type":"point","shape":"M-1,-1L1,1M-1,1L1,-1","filled":false,"stroke":"#000000","strokeWidth":1,"opacity":1,"size":338},"encoding":{}},
{"transform":[{"filter":"datum.kind==='headBold'"}],"mark":{"type":"text","align":"left","baseline":"middle","fontSize":26.5,"fontWeight":"bold","color":"#000000"},"encoding":{"text":{"field":"label","type":"nominal"}}},
{"transform":[{"filter":"datum.kind==='headThin'"}],"mark":{"type":"text","align":"left","baseline":"middle","fontSize":20.7,"color":"#000000"},"encoding":{"text":{"field":"label","type":"nominal"}}},
{"transform":[{"filter":"datum.kind==='note'"}],"mark":{"type":"text","align":"left","baseline":"middle","fontSize":16,"color":"#000000"},"encoding":{"text":{"field":"label","type":"nominal"}}},
{"transform":[{"filter":"datum.kind==='noteBold'"}],"mark":{"type":"text","align":"left","baseline":"middle","fontSize":16,"fontWeight":"bold","color":"#000000"},"encoding":{"text":{"field":"label","type":"nominal"}}},
{"transform":[{"filter":"datum.kind==='noteGlyph'"}],"mark":{"type":"text","align":"center","baseline":"middle","fontSize":15,"font":"DejaVu Sans","color":"#666666"},"encoding":{"text":{"field":"label","type":"nominal"}}}
]}}
